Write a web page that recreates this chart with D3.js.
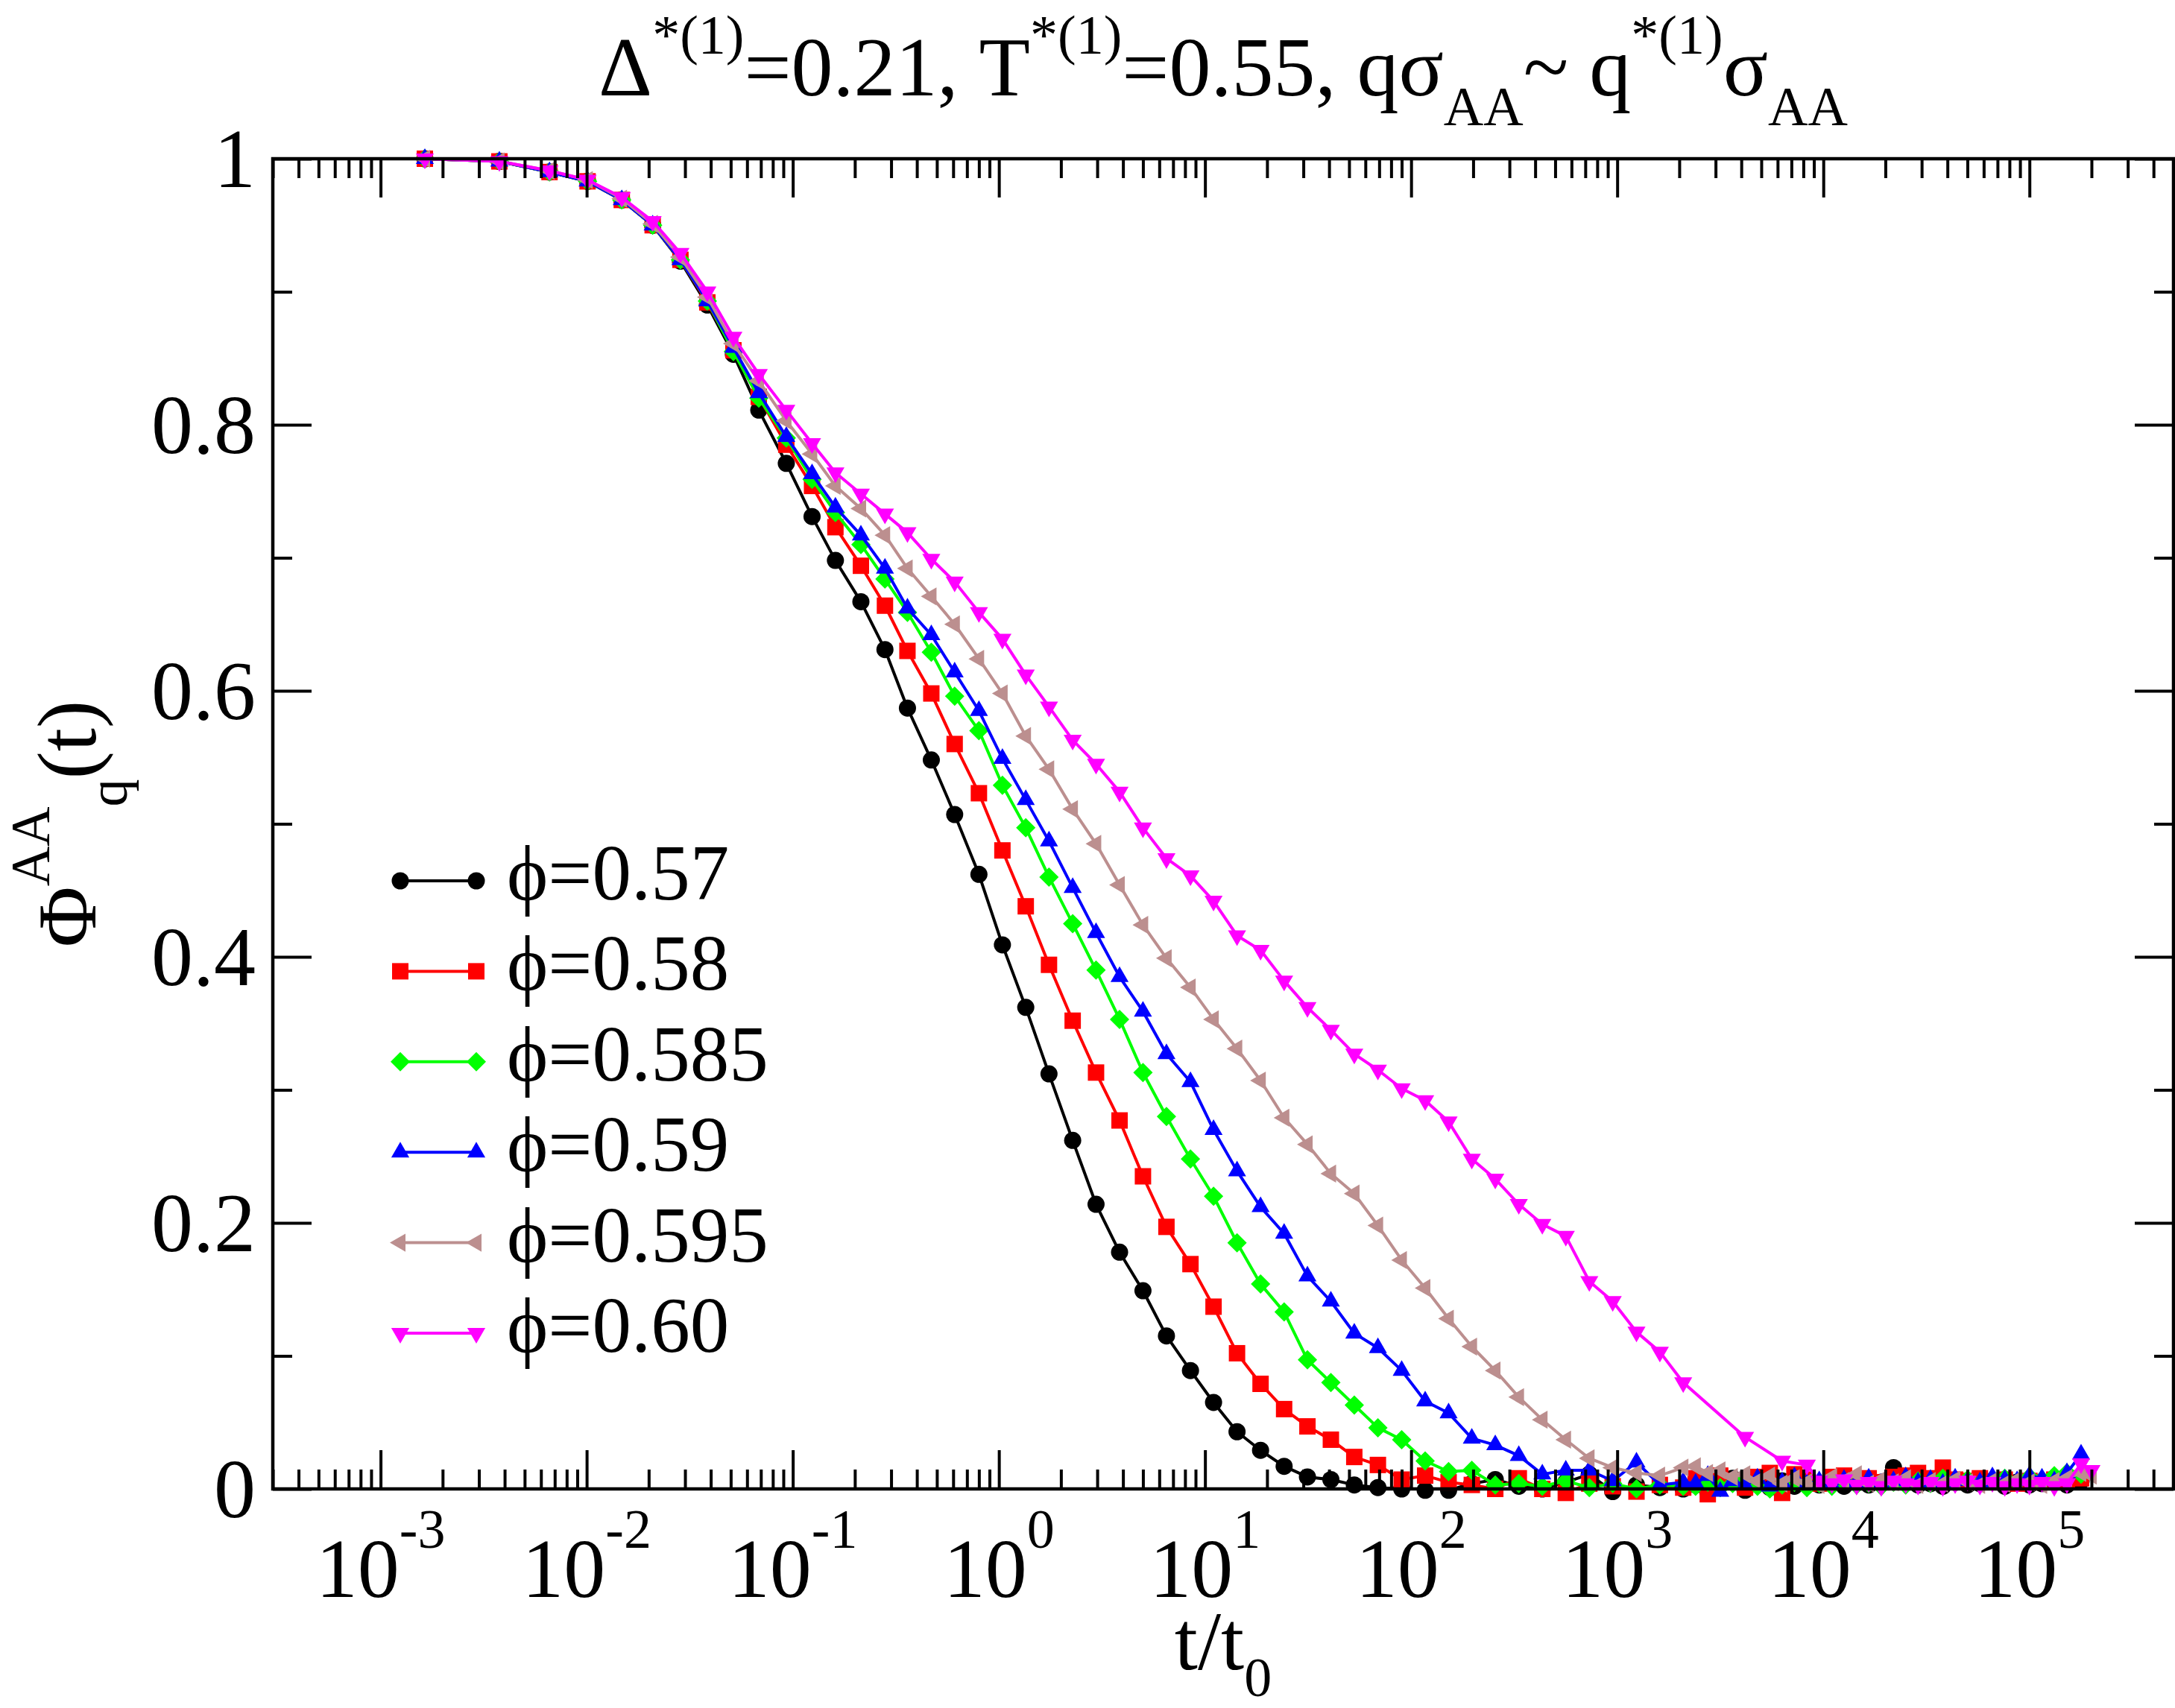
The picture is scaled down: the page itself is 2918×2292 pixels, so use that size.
<!DOCTYPE html>
<html>
<head>
<meta charset="utf-8">
<script src="https://cdn.jsdelivr.net/npm/d3@7"></script>
<style>
  html, body { margin: 0; padding: 0; background: #fff; }
  svg text { font-family: "Liberation Serif", "Times New Roman", serif; fill: #000; }
</style>
</head>
<body>
<div id="chart"></div>
<script>
// time grid (t/t0) shared by all runs up to ~2e3
const tMain = [0.00164, 0.00377, 0.0066, 0.0101, 0.0148, 0.0209, 0.0285, 0.0385, 0.0515, 0.0684,
  0.093, 0.124, 0.161, 0.214, 0.28, 0.36, 0.47, 0.61, 0.80, 1.04,
  1.35, 1.75, 2.28, 2.96, 3.85, 5.0, 6.5, 8.5, 11.0, 14.3,
  18.6, 24.2, 31.4, 40.8, 53, 69, 90, 117, 152, 197,
  256, 333, 433, 563, 732, 951, 1240, 1610, 2090];

// denser late-time grid (noisy plateau near zero)
const tTail = [2400, 2750, 3160, 3630, 4170, 4790, 5500, 6310, 7240, 8320,
  9550, 11000, 12600, 14500, 16600, 19100, 21900, 25100, 28800, 33100,
  38000, 43600, 50100, 57500, 66100, 75900, 87100, 100000, 115000, 132000,
  152000, 178000, 200000];

const phi057Main = [1.0, 0.998, 0.990, 0.983, 0.969, 0.950, 0.923, 0.890, 0.853, 0.811,
  0.771, 0.731, 0.698, 0.667, 0.631, 0.587, 0.548, 0.507, 0.462, 0.409,
  0.362, 0.312, 0.262, 0.214, 0.178, 0.149, 0.115, 0.089, 0.065, 0.043,
  0.029, 0.017, 0.009, 0.007, 0.003, 0.001, 0.000, -0.001, -0.001, 0.004,
  0.007, 0.002, 0.000, 0.005, 0.011, -0.002, 0.003, 0.001, 0.000];
const phi058Main = [1.0, 0.998, 0.990, 0.983, 0.969, 0.950, 0.924, 0.892, 0.856, 0.821,
  0.785, 0.754, 0.723, 0.694, 0.664, 0.630, 0.598, 0.560, 0.523, 0.480,
  0.438, 0.394, 0.352, 0.313, 0.277, 0.235, 0.197, 0.169, 0.137, 0.102,
  0.079, 0.060, 0.047, 0.037, 0.024, 0.018, 0.007, 0.010, 0.005, 0.003,
  0.000, 0.008, 0.000, -0.003, 0.004, 0.002, -0.002, 0.003, 0.001];
const phi0585Main = [1.0, 0.998, 0.990, 0.983, 0.969, 0.950, 0.924, 0.893, 0.855, 0.820,
  0.790, 0.759, 0.734, 0.710, 0.684, 0.659, 0.629, 0.596, 0.570, 0.529,
  0.497, 0.460, 0.425, 0.390, 0.353, 0.313, 0.280, 0.248, 0.220, 0.185,
  0.154, 0.133, 0.097, 0.080, 0.063, 0.046, 0.037, 0.021, 0.013, 0.014,
  0.003, 0.004, 0.002, 0.006, 0.001, 0.004, 0.000, 0.003, 0.002];
const phi059Main = [1.0, 0.998, 0.990, 0.983, 0.969, 0.950, 0.924, 0.893, 0.858, 0.824,
  0.791, 0.763, 0.738, 0.717, 0.692, 0.662, 0.642, 0.614, 0.585, 0.549,
  0.518, 0.487, 0.452, 0.418, 0.385, 0.359, 0.327, 0.306, 0.270, 0.239,
  0.212, 0.192, 0.160, 0.141, 0.117, 0.106, 0.089, 0.066, 0.057, 0.038,
  0.033, 0.025, 0.011, 0.014, 0.014, 0.006, 0.020, 0.003, 0.005];
const phi0595Main = [1.0, 0.998, 0.991, 0.984, 0.970, 0.951, 0.926, 0.896, 0.861, 0.833,
  0.803, 0.778, 0.754, 0.737, 0.717, 0.692, 0.671, 0.650, 0.624, 0.598,
  0.566, 0.541, 0.511, 0.485, 0.454, 0.424, 0.399, 0.377, 0.353, 0.331,
  0.307, 0.279, 0.259, 0.237, 0.222, 0.198, 0.172, 0.151, 0.128, 0.107,
  0.089, 0.069, 0.052, 0.037, 0.023, 0.016, 0.012, 0.010, 0.016];
const phi060Main = [1.0, 0.998, 0.991, 0.984, 0.971, 0.953, 0.929, 0.900, 0.866, 0.838,
  0.811, 0.786, 0.764, 0.748, 0.733, 0.719, 0.699, 0.682, 0.659, 0.639,
  0.612, 0.588, 0.563, 0.545, 0.524, 0.497, 0.474, 0.461, 0.442, 0.416,
  0.405, 0.382, 0.362, 0.345, 0.327, 0.315, 0.301, 0.292, 0.276, 0.248,
  0.233, 0.214, 0.199, 0.190, 0.156, 0.141, 0.118, 0.103, 0.080];

const phi057Tail = [0.003, -0.002, 0.009, 0.008, -0.001, 0.004, 0.001, 0.006, 0.002, 0.005,
  0.003, 0.004, 0.002, 0.006, 0.003, 0.005, 0.016, 0.006, 0.003, 0.004,
  0.002, 0.005, 0.003, 0.004, 0.006, 0.002, 0.005, 0.003, 0.004, 0.005,
  0.003, 0.006, null];
const phi058Tail = [0.008, -0.004, 0.010, 0.006, 0.001, 0.009, 0.012, -0.003, 0.011, 0.007,
  0.004, 0.009, 0.010, 0.006, 0.008, 0.005, 0.009, 0.010, 0.012, 0.008,
  0.016, 0.007, 0.006, 0.008, 0.005, 0.007, 0.004, 0.006, 0.005, 0.007,
  0.006, 0.008, null];
const phi0585Tail = [0.002, 0.005, 0.001, 0.004, 0.007, 0.002, 0.000, 0.003, 0.005, 0.001,
  0.004, 0.002, 0.006, 0.003, 0.004, 0.002, 0.005, 0.003, 0.006, 0.004,
  0.008, 0.005, 0.007, 0.004, 0.006, 0.008, 0.005, 0.009, 0.007, 0.010,
  0.012, 0.011, null];
const phi059Tail = [0.004, 0.010, -0.002, 0.006, 0.003, 0.008, 0.002, 0.005, 0.009, 0.004,
  0.006, 0.003, 0.007, 0.005, 0.008, 0.004, 0.006, 0.009, 0.005, 0.007,
  0.004, 0.008, 0.006, 0.005, 0.009, 0.007, 0.006, 0.010, 0.008, 0.006,
  0.012, 0.026, null];
const phi0595Tail = [0.017, 0.012, 0.014, 0.009, 0.011, 0.006, 0.010, 0.004, 0.008, 0.005,
  0.003, 0.009, 0.006, 0.011, 0.004, 0.007, 0.005, 0.008, 0.003, 0.006,
  0.004, 0.007, 0.005, 0.003, 0.006, 0.004, 0.007, 0.005, 0.003, 0.006,
  0.008, 0.012, 0.010];
const phi060Tail = [null, null, null, null, 0.039, null, null, 0.021, null, 0.018,
  0.006, 0.004, 0.007, 0.003, 0.005, 0.002, 0.006, 0.004, 0.003, 0.005,
  0.002, 0.004, 0.006, 0.003, 0.005, 0.002, 0.004, 0.003, 0.005, 0.002,
  0.004, 0.019, 0.014];

const seriesNames = ["0.57", "0.58", "0.585", "0.59", "0.595", "0.60"];
const seriesColors = ["#000000", "#ff0000", "#00ff00", "#0000ff", "#bc8f8f", "#ff00ff"];
const seriesShapes = ["circle", "square", "diamond", "triUp", "triLeft", "triDown"];
const mainVals = [phi057Main, phi058Main, phi0585Main, phi059Main, phi0595Main, phi060Main];
const tailVals = [phi057Tail, phi058Tail, phi0585Tail, phi059Tail, phi0595Tail, phi060Tail];

const xMajor = [1e-3, 1e-2, 1e-1, 1e0, 1e1, 1e2, 1e3, 1e4, 1e5];
const xExp = ["-3", "-2", "-1", "0", "1", "2", "3", "4", "5"];
const yMajor = [0, 0.2, 0.4, 0.6, 0.8, 1];
const yMajorLabels = ["0", "0.2", "0.4", "0.6", "0.8", "1"];
const yMinor = [0.1, 0.3, 0.5, 0.7, 0.9];

window.addEventListener("load", () => {
  const W = 2918, H = 2292;
  const M = { left: 366, right: 2916, top: 213, bottom: 1998 };
  const FS = 112, FS_SMALL = 74;
  const MAJOR = 52, MINOR = 26;

  const x = d3.scaleLog().domain([3e-4, 5e5]).range([M.left, M.right]);
  const y = d3.scaleLinear().domain([0, 1]).range([M.bottom, M.top]);

  const svg = d3.select("#chart").append("svg")
    .attr("width", W)
    .attr("height", H)
    .attr("viewBox", `0 0 ${W} ${H}`);

  svg.append("rect").attr("width", W).attr("height", H).attr("fill", "#fff");

  svg.append("defs").append("clipPath").attr("id", "plotClip")
    .append("rect")
    .attr("x", M.left).attr("y", M.top)
    .attr("width", M.right - M.left).attr("height", M.bottom - M.top);

  // marker shapes
  function symbolPath(shape) {
    const r = 14, h = r * 0.866;
    switch (shape) {
      case "circle": return "M-11.5,0A11.5,11.5 0 1,0 11.5,0A11.5,11.5 0 1,0 -11.5,0Z";
      case "square": return "M-11,-11H11V11H-11Z";
      case "diamond": return "M0,-13L13,0L0,13L-13,0Z";
      case "triUp": return `M0,${-r}L${h},${r / 2}L${-h},${r / 2}Z`;
      case "triDown": return `M0,${r}L${h},${-r / 2}L${-h},${-r / 2}Z`;
      case "triLeft": return `M${-r},0L${r / 2},${-h}L${r / 2},${h}Z`;
    }
  }

  function pairs(ts, vs) {
    return ts.map((t, k) => [t, vs[k]]).filter(p => p[1] != null);
  }

  const series = seriesNames.map((name, i) => ({
    name: name,
    color: seriesColors[i],
    shape: seriesShapes[i],
    pts: pairs(tMain, mainVals[i]).concat(pairs(tTail, tailVals[i]))
  }));

  const line = d3.line()
    .x(d => x(d[0]))
    .y(d => y(d[1]));

  const dataG = svg.append("g");
  series.forEach(s => {
    const g = dataG.append("g");
    g.append("path")
      .attr("d", line(s.pts))
      .attr("fill", "none")
      .attr("stroke", s.color)
      .attr("stroke-width", 4)
      .attr("stroke-linejoin", "round")
      .attr("clip-path", "url(#plotClip)");
    g.selectAll("path.sym")
      .data(s.pts)
      .join("path")
      .attr("class", "sym")
      .attr("d", symbolPath(s.shape))
      .attr("transform", d => `translate(${x(d[0])},${y(d[1])})`)
      .attr("fill", s.color);
  });

  // ticks
  const xMinor = [];
  for (let k = -4; k <= 5; k++) {
    for (let m = 2; m <= 9; m++) {
      const v = m * Math.pow(10, k);
      if (v > 3e-4 && v < 5e5) xMinor.push(v);
    }
  }

  function styleAxis(g) {
    g.select(".domain").remove();
    g.selectAll(".tick line").attr("stroke", "#000").attr("stroke-width", 4);
    g.selectAll(".tick text").remove();
  }

  const axG = svg.append("g");
  [[xMajor, MAJOR], [xMinor, MINOR]].forEach(([vals, len]) => {
    axG.append("g").attr("transform", `translate(0,${M.bottom})`)
      .call(d3.axisTop(x).tickValues(vals).tickSize(len).tickFormat(""))
      .call(styleAxis);
    axG.append("g").attr("transform", `translate(0,${M.top})`)
      .call(d3.axisBottom(x).tickValues(vals).tickSize(len).tickFormat(""))
      .call(styleAxis);
  });
  [[yMajor, MAJOR], [yMinor, MINOR]].forEach(([vals, len]) => {
    axG.append("g").attr("transform", `translate(${M.left},0)`)
      .call(d3.axisRight(y).tickValues(vals).tickSize(len).tickFormat(""))
      .call(styleAxis);
    axG.append("g").attr("transform", `translate(${M.right},0)`)
      .call(d3.axisLeft(y).tickValues(vals).tickSize(len).tickFormat(""))
      .call(styleAxis);
  });

  // frame
  svg.append("rect")
    .attr("x", M.left).attr("y", M.top)
    .attr("width", M.right - M.left).attr("height", M.bottom - M.top)
    .attr("fill", "none")
    .attr("stroke", "#000")
    .attr("stroke-width", 4.5);

  // x tick labels 10^k
  xMajor.forEach((v, i) => {
    const t = svg.append("text")
      .attr("x", x(v))
      .attr("y", 2143)
      .attr("text-anchor", "middle")
      .attr("font-size", FS);
    t.append("tspan").text("10");
    t.append("tspan").attr("font-size", FS_SMALL).attr("dy", -66).text(xExp[i]);
  });

  // y tick labels
  yMajor.forEach((v, i) => {
    svg.append("text")
      .attr("x", 343)
      .attr("y", y(v) + 38)
      .attr("text-anchor", "end")
      .attr("font-size", FS)
      .text(yMajorLabels[i]);
  });

  // x axis label
  const xl = svg.append("text")
    .attr("x", (M.left + M.right) / 2)
    .attr("y", 2240)
    .attr("text-anchor", "middle")
    .attr("font-size", FS);
  xl.append("tspan").text("t/t");
  xl.append("tspan").attr("font-size", FS_SMALL).attr("dy", 36).text("0");

  // y axis label
  const yl = svg.append("g")
    .attr("transform", `translate(128,${(M.top + M.bottom) / 2}) rotate(-90)`)
    .append("text")
    .attr("x", 0).attr("y", 0)
    .attr("text-anchor", "middle")
    .attr("font-size", FS);
  yl.append("tspan").text("\u03A6");
  yl.append("tspan").attr("font-size", FS_SMALL).attr("dy", -62).text("AA");
  yl.append("tspan").attr("font-size", FS_SMALL).attr("dy", 104).text("q");
  yl.append("tspan").attr("dy", -42).text("(t)");

  // title
  const title = svg.append("text")
    .attr("x", (M.left + M.right) / 2)
    .attr("y", 128)
    .attr("text-anchor", "middle")
    .attr("font-size", FS);
  const SUP = 56, SUB = 40;
  [
    ["\u0394", 0, FS], ["*(1)", -SUP, FS_SMALL], ["=0.21, T", SUP, FS],
    ["*(1)", -SUP, FS_SMALL], ["=0.55, q\u03C3", SUP, FS], ["AA", SUB, FS_SMALL],
    ["~ q", -SUB, FS], ["*(1)", -SUP, FS_SMALL], ["\u03C3", SUP, FS], ["AA", SUB, FS_SMALL]
  ].forEach(([txt, dy, fs]) => {
    title.append("tspan").attr("dy", dy).attr("font-size", fs).text(txt);
  });

  // legend
  const LG = { x0: 537, x1: 639, tx: 680, y0: 1182, dy: 121.4 };
  series.forEach((s, i) => {
    const yy = LG.y0 + i * LG.dy;
    const g = svg.append("g");
    g.append("line")
      .attr("x1", LG.x0).attr("x2", LG.x1)
      .attr("y1", yy).attr("y2", yy)
      .attr("stroke", s.color).attr("stroke-width", 4);
    [LG.x0, LG.x1].forEach(xx => {
      g.append("path")
        .attr("d", symbolPath(s.shape))
        .attr("transform", `translate(${xx},${yy})`)
        .attr("fill", s.color);
    });
    g.append("text")
      .attr("x", LG.tx)
      .attr("y", yy + 25)
      .attr("font-size", 105)
      .text("\u03D5=" + s.name);
  });
});
</script>
</body>
</html>
